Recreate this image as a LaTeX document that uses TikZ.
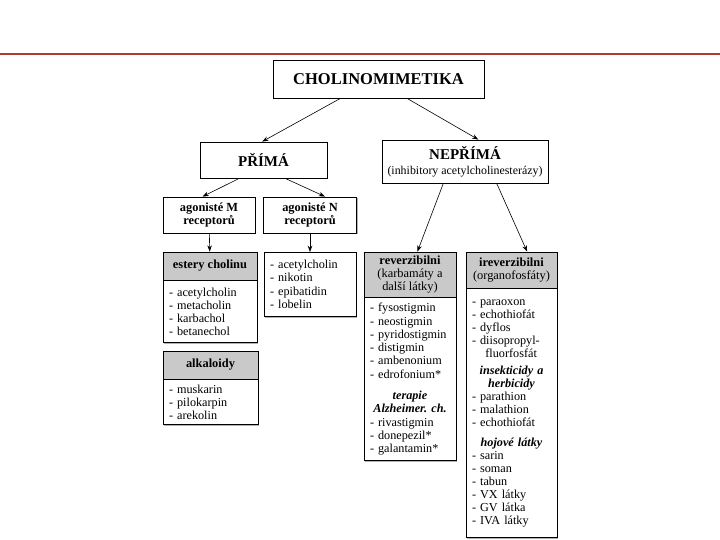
\documentclass[tikz,border=0pt]{standalone}
\usepackage{fontspec}
\setmainfont{Liberation Serif}
\usepackage{tikz}
\usetikzlibrary{arrows.meta,positioning,calc,shadows}
\definecolor{slidered}{HTML}{B03A36}
\definecolor{headgray}{HTML}{C9C9C9}
\newcommand{\midline}[1]{\makebox[\hsize][c]{\textbf{\textit{#1}}}}
\frenchspacing

\begin{document}
\begin{tikzpicture}[x=1pt,y=-1pt,
  box/.style={draw=black,line width=0.8pt,fill=white,inner sep=0pt,align=center,
              font=\fontsize{12.4}{13.3}\selectfont\bfseries,
              drop shadow={shadow xshift=1.2pt,shadow yshift=-1.2pt,fill=black!30,opacity=1}},
  head/.style={box,fill=headgray},
  list/.style={box,align=left,inner xsep=6pt,inner ysep=2pt,
               font=\fontsize{12.2}{13.3}\selectfont},
  link/.style={-{Stealth[length=2.2mm,width=1.6mm]},line width=0.6pt}
]
\useasboundingbox (0,0) rectangle (720,540);
\draw[slidered,line width=1.2pt] (0,54) -- (720,54);

% top levels
\node[box,minimum width=211pt,minimum height=38pt,font=\fontsize{16.5}{18}\selectfont\bfseries] (chol) at (378.5,79) {CHOLINOMIMETIKA};
\node[box,minimum width=127pt,minimum height=36pt,font=\fontsize{15}{16}\selectfont\bfseries] (prima) at (263.5,160) {PŘÍMÁ};
\node[box,minimum width=166pt,minimum height=43pt,font=\fontsize{15}{16}\selectfont\bfseries] (neprima) at (465,161.5)
  {NEPŘÍMÁ\\[-1pt]{\fontsize{11.9}{13}\selectfont\mdseries (inhibitory acetylcholinesterázy)}};

% agonists
\node[box,minimum width=92pt,minimum height=36pt] (agM) at (209,215) {agonisté M\\receptorů};
\node[box,minimum width=93pt,minimum height=36pt] (agN) at (310,215) {agonisté N\\receptorů};

% direct branch
\node[head,minimum width=94pt,minimum height=28pt] (estH) at (210,266) {estery cholinu};
\node[list,text width=82pt,minimum height=62pt,below=0pt of estH] (estL)
  {- acetylcholin\\- metacholin\\- karbachol\\- betanechol};
\node[list,anchor=north,text width=80pt,minimum height=64pt] (nikL) at (310,252)
  {- acetylcholin\\- nikotin\\- epibatidin\\- lobelin};
\node[head,minimum width=95pt,minimum height=28pt] (alkH) at (210.5,365) {alkaloidy};
\node[list,text width=83pt,minimum height=45pt,below=0pt of alkH] (alkL)
  {- muskarin\\- pilokarpin\\- arekolin};

% indirect branch
\node[head,minimum width=92pt,minimum height=45pt] (revH) at (410,274.5)
  {reverzibilni\\{\mdseries (karbamáty a}\\{\mdseries další látky)}};
\node[list,text width=80pt,minimum height=163pt,below=0pt of revH] (revL)
  {- fysostigmin\\- neostigmin\\- pyridostigmin\\- distigmin\\- ambenonium\\- edrofonium*\\[8pt]
   \midline{terapie}\\\midline{Alzheimer. ch.}\\- rivastigmin\\- donepezil*\\- galantamin*};
\node[head,minimum width=91pt,minimum height=36pt] (irevH) at (511.5,270)
  {ireverzibilni\\{\mdseries (organofosfáty)}};
\node[list,text width=79pt,minimum height=249pt,below=0pt of irevH,font=\fontsize{12.2}{13}\selectfont] (irevL)
  {- paraoxon\\- echothiofát\\- dyflos\\- diisopropyl-\\\hspace*{1.1em}fluorfosfát\\[4pt]
   \midline{insekticidy a}\\\midline{herbicidy}\\- parathion\\- malathion\\- echothiofát\\[7pt]
   \midline{hojové látky}\\- sarin\\- soman\\- tabun\\- VX látky\\- GV látka\\- IVA látky};

% arrows
\draw[link] ($(chol.south west)!.32!(chol.south east)$) -- ($(prima.north west)!.49!(prima.north east)$);
\draw[link] ($(chol.south west)!.635!(chol.south east)$) -- ($(neprima.north west)!.58!(neprima.north east)$);
\draw[link] ($(prima.south west)!.31!(prima.south east)$) -- ($(agM.north west)!.43!(agM.north east)$);
\draw[link] ($(prima.south west)!.67!(prima.south east)$) -- ($(agN.north west)!.66!(agN.north east)$);
\draw[link] (agM) -- (estH);
\draw[link] (agN) -- (nikL);
\draw[link] ($(neprima.south west)!.37!(neprima.south east)$) -- ($(revH.north west)!.58!(revH.north east)$);
\draw[link] ($(neprima.south west)!.69!(neprima.south east)$) -- ($(irevH.north west)!.67!(irevH.north east)$);
\end{tikzpicture}
\end{document}
